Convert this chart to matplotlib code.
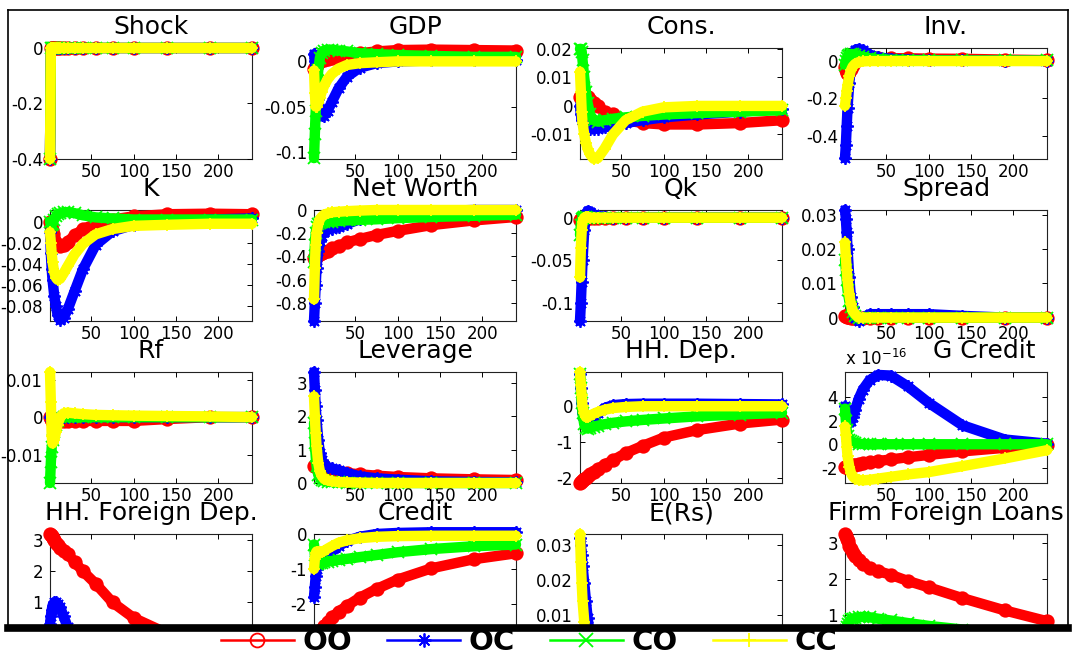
import matplotlib
matplotlib.use('Agg')
import matplotlib.pyplot as plt
from matplotlib.lines import Line2D
from matplotlib.patches import Rectangle
from matplotlib.ticker import FixedLocator, FuncFormatter

plt.rcParams['font.family'] = ['DejaVu Sans']

periods = [1, 2, 3, 4, 6, 8, 10, 13, 17, 22, 30, 40, 55, 75, 100, 140, 190, 240]
regimes = ['OO', 'OC', 'CO', 'CC']

# shock path is the same in all four regimes
shock = [-0.4, 0, 0, 0, 0, 0, 0, 0, 0, 0, 0, 0, 0, 0, 0, 0, 0, 0]

gdp_oo = [-0.008, -0.007, -0.005, -0.004, -0.002, 0.0, 0.001, 0.002, 0.003, 0.004, 0.005, 0.007, 0.009, 0.011, 0.0125, 0.013, 0.0125, 0.012]
gdp_oc = [0.008, 0.0, -0.012, -0.025, -0.042, -0.053, -0.059, -0.06, -0.055, -0.045, -0.03, -0.017, -0.007, -0.002, 0.0, 0.001, 0.002, 0.002]
gdp_co = [-0.107, -0.08, -0.055, -0.035, -0.01, 0.004, 0.009, 0.012, 0.013, 0.013, 0.012, 0.011, 0.009, 0.008, 0.007, 0.006, 0.005, 0.005]
gdp_cc = [-0.01, -0.035, -0.05, -0.05, -0.046, -0.04, -0.034, -0.027, -0.02, -0.014, -0.008, -0.004, -0.002, -0.001, 0.0, 0.0, 0.0, 0.0]

cons_oo = [0.003, 0.0035, 0.004, 0.004, 0.004, 0.0035, 0.003, 0.002, 0.001, 0.0, -0.002, -0.003, -0.005, -0.006, -0.0065, -0.0065, -0.006, -0.005]
cons_oc = [0.0, -0.003, -0.005, -0.006, -0.007, -0.0075, -0.008, -0.008, -0.008, -0.008, -0.0075, -0.007, -0.006, -0.005, -0.004, -0.003, -0.002, -0.001]
cons_co = [0.02, 0.02, 0.019, 0.016, 0.01, 0.005, 0.001, -0.003, -0.005, -0.0055, -0.005, -0.0045, -0.004, -0.0035, -0.003, -0.0025, -0.002, -0.0015]
cons_cc = [0.012, 0.005, -0.002, -0.006, -0.01, -0.013, -0.015, -0.017, -0.0185, -0.0183, -0.015, -0.01, -0.005, -0.002, -0.0005, 0.0, 0.0, 0.0]

inv_oo = [-0.03, -0.05, -0.065, -0.07, -0.06, -0.04, -0.02, 0.0, 0.01, 0.015, 0.015, 0.015, 0.015, 0.015, 0.013, 0.012, 0.008, 0.005]
inv_oc = [-0.52, -0.45, -0.35, -0.25, -0.12, -0.02, 0.035, 0.06, 0.065, 0.06, 0.035, 0.02, 0.012, 0.008, 0.005, 0.003, 0.002, 0.001]
inv_co = [-0.02, 0.0, 0.015, 0.025, 0.035, 0.038, 0.037, 0.033, 0.028, 0.022, 0.015, 0.01, 0.007, 0.005, 0.004, 0.003, 0.003, 0.003]
inv_cc = [-0.24, -0.2, -0.16, -0.13, -0.08, -0.05, -0.03, -0.015, -0.006, -0.002, 0.0, 0.0, 0.0, 0.0, 0.0, 0.0, 0.0, 0.0]

k_oo = [0.0, -0.004, -0.008, -0.012, -0.017, -0.02, -0.022, -0.023, -0.022, -0.019, -0.013, -0.007, -0.002, 0.002, 0.005, 0.007, 0.0075, 0.007]
k_oc = [-0.01, -0.03, -0.045, -0.055, -0.07, -0.08, -0.088, -0.093, -0.091, -0.083, -0.066, -0.045, -0.022, -0.009, -0.003, 0.0, 0.002, 0.003]
k_co = [0.0, -0.003, -0.003, -0.002, 0.002, 0.005, 0.007, 0.008, 0.009, 0.009, 0.008, 0.006, 0.004, 0.003, 0.002, 0.002, 0.002, 0.002]
k_cc = [-0.01, -0.02, -0.03, -0.038, -0.048, -0.053, -0.055, -0.054, -0.049, -0.042, -0.031, -0.021, -0.012, -0.007, -0.004, -0.003, -0.002, -0.002]

nw_oo = [-0.41, -0.41, -0.40, -0.40, -0.39, -0.38, -0.37, -0.36, -0.35, -0.33, -0.31, -0.28, -0.25, -0.215, -0.18, -0.13, -0.09, -0.06]
nw_oc = [-0.957, -0.8, -0.65, -0.5, -0.35, -0.27, -0.22, -0.19, -0.17, -0.16, -0.15, -0.12, -0.08, -0.05, -0.03, -0.01, 0.0, 0.0]
nw_co = [-0.45, -0.3, -0.2, -0.15, -0.12, -0.11, -0.1, -0.1, -0.1, -0.1, -0.095, -0.09, -0.085, -0.08, -0.07, -0.06, -0.05, -0.04]
nw_cc = [-0.77, -0.5, -0.3, -0.2, -0.12, -0.08, -0.06, -0.04, -0.03, -0.02, -0.015, -0.01, -0.005, 0.0, 0.0, 0.0, 0.0, 0.0]

qk_oo = [-0.003, -0.001, 0.0, 0.0, 0.0, 0.0, 0.0, 0.0, 0.0, 0.0, 0.0, 0.0, 0.0, 0.0, 0.0, 0.0, 0.0, 0.0]
qk_oc = [-0.121, -0.1, -0.075, -0.05, -0.015, 0.004, 0.008, 0.007, 0.004, 0.002, 0.001, 0.0, 0.0, 0.0, 0.0, 0.0, 0.0, 0.0]
qk_co = [-0.02, -0.008, -0.002, 0.0, 0.001, 0.001, 0.0, 0.0, 0.0, 0.0, 0.0, 0.0, 0.0, 0.0, 0.0, 0.0, 0.0, 0.0]
qk_cc = [-0.07, -0.035, -0.015, -0.005, 0.0, 0.001, 0.001, 0.0, 0.0, 0.0, 0.0, 0.0, 0.0, 0.0, 0.0, 0.0, 0.0, 0.0]

spread_oo = [0.0005, 0.0004, 0.0003, 0.0002, 0.0001, 0.0, 0.0, 0.0, 0.0, 0.0, 0.0, 0.0, 0.0, 0.0, 0.0, 0.0, 0.0, 0.0]
spread_oc = [0.0315, 0.029, 0.025, 0.02, 0.012, 0.006, 0.003, 0.0, -0.001, 0.0, 0.001, 0.001, 0.001, 0.001, 0.001, 0.0005, 0.0, 0.0]
spread_co = [0.017, 0.014, 0.011, 0.008, 0.005, 0.003, 0.0015, 0.0005, 0.0, 0.0, 0.0, 0.0, 0.0, 0.0, 0.0, 0.0, 0.0, 0.0]
spread_cc = [0.022, 0.018, 0.014, 0.011, 0.007, 0.004, 0.002, 0.001, 0.0, 0.0, 0.0, 0.0, 0.0, 0.0, 0.0, 0.0, 0.0, 0.0]

rf_oo = [0.0, -0.0005, -0.001, -0.001, -0.001, -0.001, -0.001, -0.001, -0.001, -0.001, -0.001, -0.001, -0.001, -0.001, -0.001, -0.0005, 0.0, 0.0]
rf_oc = [0.0, 0.0, -0.001, -0.001, -0.0015, -0.001, -0.0005, 0.0, 0.0, 0.0, 0.0, 0.0, 0.0, 0.0, 0.0, 0.0, 0.0, 0.0]
rf_co = [-0.0175, -0.012, -0.008, -0.006, -0.004, -0.002, -0.001, 0.0, 0.0, 0.0, 0.0, 0.0, 0.0, 0.0, 0.0, 0.0, 0.0, 0.0]
rf_cc = [0.012, 0.004, -0.005, -0.007, -0.006, -0.004, -0.002, 0.0, 0.001, 0.0012, 0.001, 0.0008, 0.0006, 0.0005, 0.0004, 0.0003, 0.0002, 0.0]

lev_oo = [0.5, 0.5, 0.5, 0.48, 0.46, 0.44, 0.42, 0.4, 0.38, 0.36, 0.33, 0.3, 0.26, 0.22, 0.18, 0.14, 0.11, 0.09]
lev_oc = [3.33, 2.8, 2.3, 1.9, 1.3, 0.9, 0.7, 0.55, 0.48, 0.44, 0.38, 0.3, 0.2, 0.14, 0.1, 0.05, 0.03, 0.02]
lev_co = [1.8, 1.2, 0.8, 0.5, 0.25, 0.15, 0.1, 0.06, 0.04, 0.03, 0.02, 0.01, 0.0, 0.0, 0.0, 0.0, 0.0, 0.0]
lev_cc = [2.6, 2.0, 1.5, 1.1, 0.6, 0.35, 0.22, 0.12, 0.08, 0.05, 0.03, 0.02, 0.01, 0.0, 0.0, 0.0, 0.0, 0.0]

hhdep_oo = [-2.12, -2.1, -2.08, -2.06, -2.02, -1.98, -1.94, -1.89, -1.82, -1.74, -1.62, -1.5, -1.3, -1.1, -0.87, -0.66, -0.48, -0.37]
hhdep_oc = [0.9, 0.5, 0.1, -0.2, -0.35, -0.42, -0.45, -0.45, -0.35, -0.2, -0.05, 0.03, 0.06, 0.07, 0.07, 0.07, 0.06, 0.05]
hhdep_co = [0.9, 0.5, 0.1, -0.2, -0.5, -0.6, -0.62, -0.6, -0.57, -0.54, -0.5, -0.46, -0.42, -0.38, -0.34, -0.28, -0.23, -0.18]
hhdep_cc = [0.95, 0.6, 0.3, 0.0, -0.2, -0.3, -0.3, -0.26, -0.21, -0.16, -0.1, -0.05, -0.02, 0.0, 0.0, 0.0, 0.0, 0.0]

# government credit, in units of 1e-16
gcredit_oo = [-1.9, -1.9, -1.88, -1.87, -1.85, -1.82, -1.78, -1.74, -1.68, -1.62, -1.52, -1.42, -1.28, -1.1, -0.9, -0.6, -0.3, -0.05]
gcredit_oc = [3.2, 2.8, 2.4, 2.1, 1.9, 2.0, 2.3, 2.9, 3.8, 4.6, 5.4, 5.85, 5.8, 4.9, 3.5, 1.6, 0.4, 0.05]
gcredit_co = [3.0, 2.0, 1.2, 0.7, 0.4, 0.25, 0.15, 0.1, 0.05, 0.02, 0.0, 0.0, 0.0, 0.0, 0.0, 0.0, 0.0, 0.0]
gcredit_cc = [1.5, 0.8, -0.2, -1.0, -1.9, -2.4, -2.7, -2.9, -3.0, -3.05, -3.0, -2.9, -2.75, -2.55, -2.35, -1.85, -1.2, -0.5]

hhfd_oo = [3.2, 3.17, 3.13, 3.08, 3.0, 2.92, 2.85, 2.75, 2.65, 2.55, 2.3, 2.0, 1.6, 1.0, 0.5, 0.0, -0.2, -0.3]
hhfd_oc = [0.3, 0.55, 0.75, 0.9, 1.0, 1.0, 0.95, 0.85, 0.55, 0.2, 0.0, -0.1, -0.2, -0.25, -0.25, -0.2, -0.15, -0.1]
hhfd_co = [-0.2, -0.2, -0.2, -0.2, -0.2, -0.2, -0.2, -0.2, -0.2, -0.2, -0.2, -0.2, -0.2, -0.2, -0.2, -0.15, -0.1, -0.1]
hhfd_cc = [-0.25, -0.25, -0.25, -0.25, -0.25, -0.25, -0.25, -0.25, -0.25, -0.25, -0.25, -0.25, -0.25, -0.2, -0.2, -0.15, -0.1, -0.1]

credit_oo = [-3.15, -3.1, -3.05, -3.0, -2.9, -2.8, -2.72, -2.62, -2.5, -2.38, -2.22, -2.05, -1.82, -1.57, -1.3, -0.98, -0.72, -0.55]
credit_oc = [-1.8, -1.5, -1.2, -1.0, -0.85, -0.78, -0.75, -0.7, -0.6, -0.5, -0.35, -0.2, -0.08, 0.0, 0.03, 0.05, 0.05, 0.05]
credit_co = [-0.3, -0.6, -0.8, -0.85, -0.85, -0.84, -0.83, -0.81, -0.79, -0.77, -0.74, -0.71, -0.66, -0.6, -0.52, -0.43, -0.35, -0.3]
credit_cc = [-1.0, -0.7, -0.55, -0.5, -0.5, -0.52, -0.52, -0.48, -0.42, -0.35, -0.25, -0.18, -0.12, -0.08, -0.06, -0.05, -0.05, -0.05]

ers_oo = [0.0, 0.0, 0.0, 0.0, 0.0, 0.0, 0.0, 0.0, 0.0, 0.0, 0.0, 0.0, 0.0, 0.0, 0.0, 0.0, 0.0, 0.0]
ers_oc = [0.032, 0.03, 0.027, 0.024, 0.019, 0.014, 0.009, 0.004, 0.001, 0.0, 0.0, 0.0, 0.0, 0.0, 0.0, 0.0, 0.0, 0.0]
ers_co = [0.0, 0.0, 0.0, 0.0, 0.0, 0.0, 0.0, 0.0, 0.0, 0.0, 0.0, 0.0, 0.0, 0.0, 0.0, 0.0, 0.0, 0.0]
ers_cc = [0.033, 0.025, 0.019, 0.014, 0.008, 0.004, 0.002, 0.0, 0.0, 0.0, 0.0, 0.0, 0.0, 0.0, 0.0, 0.0, 0.0, 0.0]

ffl_oo = [3.25, 3.2, 3.12, 3.05, 2.92, 2.82, 2.73, 2.63, 2.52, 2.42, 2.3, 2.22, 2.12, 1.95, 1.77, 1.47, 1.13, 0.83]
ffl_oc = [0.0, 0.0, 0.0, 0.0, 0.0, 0.0, 0.0, 0.0, 0.0, 0.0, 0.0, 0.0, 0.0, 0.0, 0.0, 0.0, 0.0, 0.0]
ffl_co = [0.5, 0.6, 0.68, 0.75, 0.83, 0.88, 0.9, 0.92, 0.94, 0.95, 0.94, 0.9, 0.85, 0.78, 0.7, 0.6, 0.5, 0.4]
ffl_cc = [0.0, 0.0, 0.0, 0.0, 0.0, 0.0, 0.0, 0.0, 0.0, 0.0, 0.0, 0.0, 0.0, 0.0, 0.0, 0.0, 0.0, 0.0]

xticks = [50, 100, 150, 200]

# (title, series, y-limits, y-ticks); ticks of the last row stop at the cut
panels = [
    ('Shock', (shock, shock, shock, shock), (-0.4, 0.0), [-0.4, -0.2, 0]),
    ('GDP', (gdp_oo, gdp_oc, gdp_co, gdp_cc), (-0.108, 0.0148), [-0.1, -0.05, 0]),
    ('Cons.', (cons_oo, cons_oc, cons_co, cons_cc), (-0.0186, 0.0203), [-0.01, 0, 0.01, 0.02]),
    ('Inv.', (inv_oo, inv_oc, inv_co, inv_cc), (-0.525, 0.07), [-0.4, -0.2, 0]),
    ('K', (k_oo, k_oc, k_co, k_cc), (-0.094, 0.011), [-0.08, -0.06, -0.04, -0.02, 0]),
    ('Net Worth', (nw_oo, nw_oc, nw_co, nw_cc), (-0.957, 0.0), [-0.8, -0.6, -0.4, -0.2, 0]),
    ('Qk', (qk_oo, qk_oc, qk_co, qk_cc), (-0.121, 0.009), [-0.1, -0.05, 0]),
    ('Spread', (spread_oo, spread_oc, spread_co, spread_cc), (-0.001, 0.0315), [0, 0.01, 0.02, 0.03]),
    ('Rf', (rf_oo, rf_oc, rf_co, rf_cc), (-0.0175, 0.012), [-0.01, 0, 0.01]),
    ('Leverage', (lev_oo, lev_oc, lev_co, lev_cc), (0.0, 3.33), [0, 1, 2, 3]),
    ('HH. Dep.', (hhdep_oo, hhdep_oc, hhdep_co, hhdep_cc), (-2.13, 0.95), [-2, -1, 0]),
    ('G Credit', (gcredit_oo, gcredit_oc, gcredit_co, gcredit_cc), (-3.27, 6.1), [-2, 0, 2, 4]),
    ('HH. Foreign Dep.', (hhfd_oo, hhfd_oc, hhfd_co, hhfd_cc), (-0.37, 3.2), [1, 2, 3]),
    ('Credit', (credit_oo, credit_oc, credit_co, credit_cc), (-3.17, 0.0), [-2, -1, 0]),
    ('E(Rs)', (ers_oo, ers_oc, ers_co, ers_cc), (0.0013, 0.033), [0.01, 0.02, 0.03]),
    ('Firm Foreign Loans', (ffl_oo, ffl_oc, ffl_co, ffl_cc), (0.17, 3.25), [1, 2, 3]),
]

colors = ['#ff0000', '#0000ff', '#00ff00', '#ffff00']
# circle, asterisk, cross, plus (MATLAB-style)
markers = ['o', (8, 2, 0), 'x', '+']

W, H = 1076, 659
fig = plt.figure(figsize=(W / 100, H / 100), dpi=100)

col_left = [50, 314, 580, 845]
row_top = [48, 210, 372, 534]
ax_w, ax_h = 202, 111


def fmt(v, pos):
    return f'{round(v, 10):g}'


for i, (title, series, ylim, yticks) in enumerate(panels):
    r, c = divmod(i, 4)
    ax = fig.add_axes([col_left[c] / W, 1 - (row_top[r] + ax_h) / H, ax_w / W, ax_h / H])
    for j, vals in enumerate(series):
        z = 2 + j * 0.1
        ax.plot(periods, vals, color=colors[j], lw=7.5, solid_capstyle='round',
                solid_joinstyle='round', clip_on=False, zorder=z)
        ax.plot(periods, vals, color=colors[j], ls='none', marker=markers[j], ms=9,
                mew=1.3, mfc=colors[j], clip_on=False, zorder=z + 0.05)
    ax.set_xlim(1, 240)
    ax.set_ylim(*ylim)
    ax.xaxis.set_major_locator(FixedLocator(xticks))
    ax.yaxis.set_major_locator(FixedLocator(yticks))
    ax.yaxis.set_major_formatter(FuncFormatter(fmt))
    ax.tick_params(direction='in', length=3.5, width=0.7, top=True, right=True,
                   labelsize=12, colors='black')
    ax.tick_params(axis='x', pad=3, labelbottom=(r < 3))
    ax.tick_params(axis='y', pad=5)
    for sp in ax.spines.values():
        sp.set_zorder(1)
        sp.set_linewidth(0.8)
        sp.set_color('#222222')
    if title == 'G Credit':
        ax.set_title(title, fontsize=18, pad=10, x=0.69)
        ax.text(0.0, 1.03, r'x 10$^{\mathregular{-16}}$', transform=ax.transAxes,
                ha='left', va='bottom', fontsize=12)
    else:
        ax.set_title(title, fontsize=18, pad=10)

# the picture is cut off below the last row of panels
fig.add_artist(Rectangle((0, 0), 1, (H - 627) / H, transform=fig.transFigure,
                         facecolor='white', edgecolor='none', zorder=10))
fig.add_artist(Line2D([8 / W, 1068 / W], [1 - 627.5 / H] * 2, transform=fig.transFigure,
                      color='black', lw=5.5, zorder=11))
fig.add_artist(Line2D([8 / W, 1068 / W], [1 - 10 / H] * 2, transform=fig.transFigure,
                      color='black', lw=1.2, zorder=11))
fig.add_artist(Line2D([8 / W, 8 / W], [1 - 10 / H, 1 - 627 / H], transform=fig.transFigure,
                      color='black', lw=1.2, zorder=11))
fig.add_artist(Line2D([1068 / W, 1068 / W], [1 - 10 / H, 1 - 627 / H], transform=fig.transFigure,
                      color='black', lw=1.2, zorder=11))

handles = [Line2D([], [], color=colors[j], marker=markers[j], ms=10, mew=1.3, lw=1.8,
                  mfc='none' if markers[j] == 'o' else colors[j]) for j in range(4)]
leg = fig.legend(handles, regimes, loc='center', bbox_to_anchor=(529 / W, 1 - 642 / H),
                 ncol=4, frameon=False, prop={'weight': 'bold', 'size': 21},
                 handlelength=2.5, columnspacing=1.2, handletextpad=0.3)
leg.set_zorder(20)

fig.savefig('out.png', dpi=100)
